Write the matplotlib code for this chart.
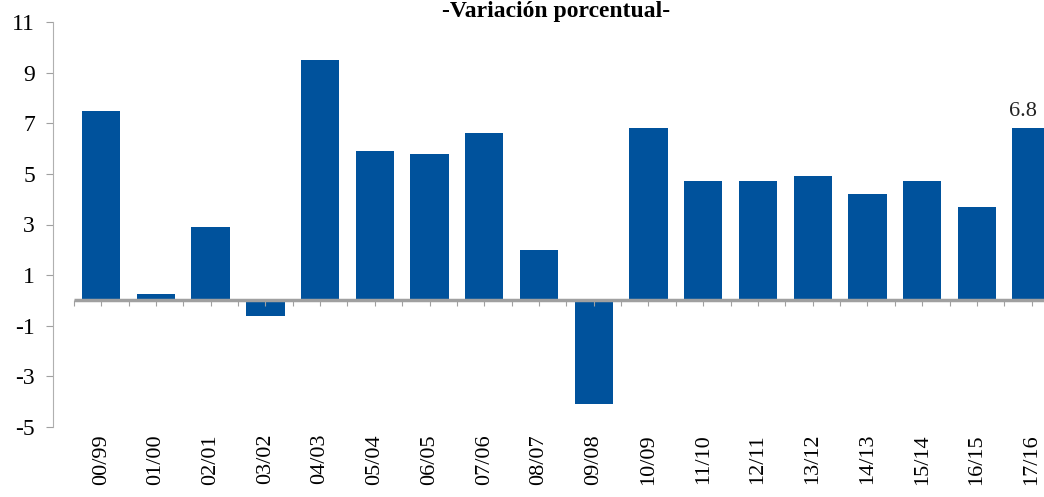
import numpy as np
import matplotlib
matplotlib.use('Agg')
import matplotlib.pyplot as plt

# Datos
periodos = ['00/99', '01/00', '02/01', '03/02', '04/03', '05/04', '06/05', '07/06', '08/07',
            '09/08', '10/09', '11/10', '12/11', '13/12', '14/13', '15/14', '16/15', '17/16']
variacion = [7.5, 0.25, 2.9, -0.6, 9.5, 5.9, 5.8, 6.6, 2.0,
             -4.1, 6.8, 4.7, 4.7, 4.9, 4.2, 4.7, 3.7, 6.8]
etiqueta_final = '6.8'

plt.rcParams['font.family'] = ['Liberation Serif', 'DejaVu Serif']
plt.rcParams['axes.unicode_minus'] = False

fig = plt.figure(figsize=(10.44, 4.97), dpi=100)
ax = fig.add_axes([53 / 1044, 70 / 497, 1006 / 1044, 405 / 497])

x = np.arange(len(periodos))
ax.bar(x, variacion, width=0.7, color='#00529c', zorder=2)

# linea del cero con marcas
ax.hlines(0, -0.5, len(periodos) - 0.5, color='#a0a0a0', linewidth=2.5, zorder=3)
marcas = np.arange(-0.5, len(periodos), 0.5)
ax.vlines(marcas, -0.22, 0, color='#a0a0a0', linewidth=0.8, zorder=3)

ax.text(x[-1] - 0.15, variacion[-1] + 0.3, etiqueta_final, ha='center', va='bottom',
        fontsize=16, color='#222222')

ax.set_xlim(-0.88, len(periodos) - 0.5)
ax.set_ylim(-5, 11)
ax.set_yticks(np.arange(-5, 12, 2))
ax.tick_params(axis='y', labelsize=17, length=5, color='#a0a0a0', pad=8)
ax.set_xticks(x)
ax.set_xticklabels(periodos, rotation=90, fontsize=16)
ax.tick_params(axis='x', length=0, pad=5)

for s in ['top', 'right', 'bottom']:
    ax.spines[s].set_visible(False)
ax.spines['left'].set_color('#b0b0b0')
ax.spines['left'].set_linewidth(0.8)

fig.text(556 / 1044, 1 - 12 / 497, '-Variación porcentual-', ha='center', va='center',
         fontsize=17, fontweight='bold')

fig.savefig('out.png', dpi=100)
